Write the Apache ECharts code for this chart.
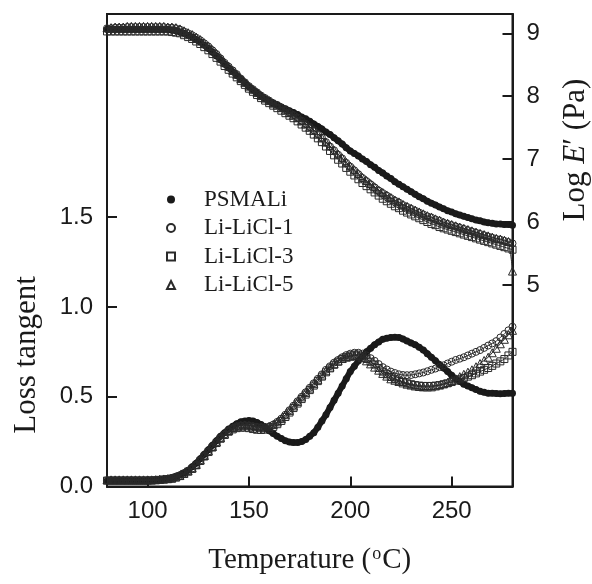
<!DOCTYPE html>
<html>
<head>
<meta charset="utf-8">
<script src="https://cdn.jsdelivr.net/npm/echarts@6/dist/echarts.min.js"></script>
<style>html,body{margin:0;padding:0;background:#fff}#c{width:592px;height:584px}</style>
</head>
<body>
<div id="c"></div>
<script>
// Temperature (°C)
const temps = [80,82,84,86,88,90,92,94,96,98,100,102,104,106,108,110,112,114,116,118,120,122,124,126,128,130,132,134,136,138,140,142,144,146,148,150,152,154,156,158,160,162,164,166,168,170,172,174,176,178,180,182,184,186,188,190,192,194,196,198,200,202,204,206,208,210,212,214,216,218,220,222,224,226,228,230,232,234,236,238,240,242,244,246,248,250,252,254,256,258,260,262,264,266,268,270,272,274,276,278,280];

const seriesNames = ['PSMALi','Li-LiCl-1','Li-LiCl-3','Li-LiCl-5'];
const xTicks = [100,150,200,250];
const leftTicks = [0,0.5,1.0,1.5];
const rightTicks = [5,6,7,8,9];

// Log E' (Pa)
const logE_PSMALi = [9.06,9.06,9.06,9.06,9.06,9.06,9.06,9.06,9.06,9.06,9.06,9.06,9.06,9.06,9.06,9.06,9.05,9.04,9.02,9.00,8.97,8.94,8.90,8.86,8.81,8.76,8.70,8.64,8.58,8.51,8.45,8.39,8.33,8.27,8.21,8.15,8.10,8.05,8.00,7.96,7.92,7.89,7.86,7.83,7.80,7.77,7.74,7.71,7.67,7.64,7.60,7.56,7.52,7.48,7.43,7.39,7.34,7.29,7.24,7.18,7.13,7.09,7.05,7.00,6.96,6.91,6.87,6.82,6.78,6.73,6.69,6.64,6.60,6.56,6.52,6.48,6.44,6.40,6.37,6.33,6.30,6.27,6.24,6.21,6.18,6.16,6.13,6.11,6.09,6.07,6.05,6.03,6.02,6.00,5.99,5.98,5.97,5.97,5.96,5.96,5.95];
const logE_LiCl1 = [9.08,9.08,9.09,9.09,9.09,9.10,9.10,9.10,9.10,9.10,9.10,9.10,9.10,9.10,9.10,9.09,9.09,9.08,9.06,9.03,9.00,8.97,8.93,8.89,8.84,8.79,8.73,8.67,8.60,8.53,8.47,8.41,8.35,8.28,8.22,8.16,8.11,8.06,8.01,7.97,7.93,7.89,7.86,7.82,7.78,7.74,7.70,7.66,7.61,7.56,7.51,7.46,7.40,7.34,7.27,7.20,7.14,7.07,7.01,6.94,6.88,6.82,6.76,6.70,6.65,6.60,6.55,6.50,6.46,6.42,6.38,6.34,6.31,6.27,6.24,6.21,6.18,6.15,6.12,6.09,6.07,6.04,6.02,5.99,5.97,5.95,5.93,5.91,5.89,5.87,5.85,5.83,5.81,5.79,5.77,5.75,5.73,5.72,5.70,5.68,5.66];
const logE_LiCl3 = [9.03,9.03,9.03,9.03,9.03,9.03,9.03,9.03,9.03,9.03,9.03,9.03,9.03,9.03,9.03,9.03,9.02,9.01,9.00,8.97,8.94,8.91,8.87,8.83,8.78,8.73,8.67,8.61,8.55,8.48,8.42,8.36,8.30,8.24,8.18,8.12,8.07,8.02,7.97,7.93,7.89,7.85,7.81,7.77,7.73,7.69,7.65,7.60,7.55,7.50,7.45,7.39,7.33,7.27,7.20,7.13,7.06,6.99,6.93,6.86,6.80,6.74,6.68,6.62,6.57,6.52,6.47,6.42,6.37,6.33,6.29,6.25,6.22,6.18,6.15,6.12,6.09,6.06,6.03,6.00,5.97,5.95,5.92,5.90,5.88,5.86,5.84,5.82,5.80,5.78,5.76,5.74,5.72,5.70,5.68,5.66,5.64,5.62,5.60,5.58,5.56];
const logE_LiCl5 = [9.09,9.09,9.10,9.10,9.10,9.11,9.11,9.11,9.11,9.11,9.11,9.11,9.11,9.11,9.11,9.10,9.10,9.09,9.07,9.04,9.01,8.98,8.94,8.90,8.85,8.80,8.74,8.68,8.61,8.54,8.48,8.41,8.35,8.28,8.22,8.16,8.11,8.06,8.01,7.97,7.93,7.89,7.86,7.82,7.78,7.74,7.70,7.66,7.61,7.56,7.51,7.46,7.40,7.34,7.27,7.21,7.14,7.08,7.02,6.95,6.89,6.83,6.77,6.71,6.66,6.61,6.56,6.51,6.47,6.43,6.39,6.35,6.32,6.28,6.25,6.22,6.19,6.16,6.13,6.10,6.08,6.05,6.03,6.00,5.98,5.96,5.94,5.92,5.90,5.88,5.86,5.84,5.82,5.80,5.78,5.76,5.74,5.73,5.71,5.69,5.22];

// Loss tangent
const tan_PSMALi = [0.03,0.03,0.03,0.03,0.03,0.03,0.03,0.03,0.03,0.03,0.03,0.032,0.035,0.037,0.04,0.045,0.05,0.057,0.065,0.076,0.09,0.11,0.13,0.155,0.18,0.205,0.23,0.255,0.28,0.30,0.32,0.335,0.35,0.36,0.365,0.368,0.365,0.357,0.345,0.33,0.31,0.295,0.28,0.267,0.255,0.248,0.245,0.245,0.25,0.262,0.28,0.30,0.33,0.365,0.40,0.44,0.48,0.52,0.56,0.60,0.64,0.67,0.70,0.725,0.75,0.77,0.79,0.805,0.82,0.826,0.83,0.832,0.83,0.822,0.81,0.80,0.79,0.775,0.76,0.74,0.72,0.70,0.68,0.66,0.64,0.62,0.60,0.585,0.57,0.56,0.55,0.54,0.53,0.525,0.52,0.52,0.518,0.517,0.518,0.52,0.52];
const tan_LiCl1 = [0.035,0.035,0.035,0.035,0.035,0.035,0.035,0.035,0.035,0.035,0.035,0.035,0.036,0.038,0.04,0.042,0.045,0.052,0.06,0.072,0.085,0.10,0.12,0.145,0.17,0.195,0.22,0.245,0.27,0.29,0.31,0.325,0.335,0.34,0.342,0.34,0.335,0.332,0.33,0.331,0.335,0.345,0.36,0.378,0.40,0.425,0.45,0.475,0.50,0.525,0.55,0.575,0.60,0.625,0.65,0.67,0.69,0.705,0.72,0.732,0.74,0.745,0.745,0.74,0.73,0.715,0.70,0.682,0.665,0.652,0.64,0.632,0.625,0.621,0.62,0.621,0.625,0.63,0.635,0.642,0.65,0.657,0.665,0.675,0.685,0.695,0.705,0.712,0.72,0.73,0.74,0.75,0.76,0.772,0.785,0.797,0.81,0.83,0.85,0.87,0.89];
const tan_LiCl3 = [0.033,0.033,0.033,0.033,0.033,0.033,0.033,0.033,0.033,0.033,0.033,0.034,0.035,0.037,0.039,0.041,0.044,0.05,0.058,0.07,0.083,0.098,0.118,0.142,0.167,0.192,0.217,0.242,0.266,0.287,0.305,0.318,0.325,0.328,0.328,0.325,0.32,0.316,0.315,0.317,0.322,0.332,0.347,0.365,0.387,0.412,0.437,0.462,0.487,0.512,0.537,0.562,0.587,0.612,0.636,0.658,0.678,0.695,0.71,0.722,0.73,0.735,0.735,0.725,0.71,0.695,0.68,0.66,0.64,0.625,0.61,0.60,0.59,0.582,0.575,0.57,0.565,0.562,0.56,0.56,0.56,0.562,0.565,0.57,0.575,0.582,0.59,0.597,0.605,0.612,0.62,0.63,0.64,0.65,0.66,0.672,0.685,0.697,0.71,0.73,0.75];
const tan_LiCl5 = [0.037,0.037,0.037,0.037,0.037,0.037,0.037,0.037,0.037,0.037,0.037,0.037,0.038,0.04,0.042,0.044,0.047,0.054,0.062,0.074,0.087,0.103,0.123,0.148,0.173,0.198,0.223,0.248,0.272,0.292,0.312,0.327,0.336,0.341,0.343,0.341,0.336,0.332,0.33,0.331,0.335,0.345,0.36,0.378,0.40,0.424,0.449,0.474,0.499,0.524,0.548,0.573,0.597,0.621,0.645,0.665,0.684,0.70,0.713,0.72,0.725,0.73,0.728,0.718,0.70,0.683,0.665,0.648,0.63,0.615,0.60,0.592,0.585,0.577,0.57,0.565,0.56,0.557,0.555,0.555,0.555,0.56,0.565,0.572,0.58,0.59,0.60,0.612,0.625,0.637,0.65,0.667,0.685,0.702,0.72,0.745,0.77,0.795,0.82,0.845,0.87];

function pairs(ys){ return temps.map((t,i)=>[t, ys[i]]); }

const INK = '#1a1a1a';
const OPEN = '#2a2a2a';
const axisFont = 'Liberation Sans, Arial, sans-serif';
const serif = 'Liberation Serif, Times New Roman, serif';

const styles = [
  {symbol:'circle', size:7, item:{color:INK, borderColor:INK, borderWidth:0}, line:{width:6, color:INK}},
  {symbol:'circle', size:7, item:{color:'rgba(255,255,255,0)', borderColor:OPEN, borderWidth:1}, line:{width:1, color:OPEN}},
  {symbol:'rect', size:7, item:{color:'rgba(255,255,255,0)', borderColor:OPEN, borderWidth:1}, line:{width:1, color:OPEN}},
  {symbol:'triangle', size:8, item:{color:'rgba(255,255,255,0)', borderColor:OPEN, borderWidth:1}, line:{width:1, color:OPEN}}
];
const eData = [logE_PSMALi, logE_LiCl1, logE_LiCl3, logE_LiCl5];
const tData = [tan_PSMALi, tan_LiCl1, tan_LiCl3, tan_LiCl5];

const series = [];
[0,1,2,3].forEach(k=>{
  const s = styles[k];
  [[eData[k],1],[tData[k],0]].forEach(([ys,ax])=>{
    series.push({
      name: seriesNames[k], type:'line', yAxisIndex: ax,
      data: pairs(ys), smooth: 0.3,
      symbol: s.symbol, symbolSize: s.size, showSymbol:true, showAllSymbol:true,
      itemStyle: s.item, lineStyle: s.line,
      emphasis:{disabled:true}, z: k===0 ? 2 : 3
    });
  });
});

const chart = echarts.init(document.getElementById('c'), null, {renderer:'canvas'});
chart.setOption({
  animation:false,
  backgroundColor:'#fff',
  grid:{left:107, right:79.5, top:14, bottom:97.5, containLabel:false, outerBoundsMode:'none',
        show:true, borderColor:INK, borderWidth:2, backgroundColor:'transparent'},
  legend:{
    orient:'vertical', left:161, top:183, itemWidth:8, itemHeight:8, itemGap:5.5,
    selectedMode:false,
    textStyle:{fontFamily:serif, fontSize:23, color:INK, padding:[0,0,0,24]},
    data: seriesNames.map((n,i)=>({name:n, icon: styles[i].symbol}))
  },
  xAxis:{
    type:'value', min:80, max:280,
    axisLine:{show:true, lineStyle:{color:INK, width:2}},
    axisTick:{show:true, inside:true, length:10, lineStyle:{color:INK, width:2}, customValues:xTicks},
    axisLabel:{show:true, customValues:xTicks, margin:13, fontFamily:axisFont, fontSize:24, color:INK},
    splitLine:{show:false},
    name:'{a|Temperature (}{s|o}{a|C)}', nameLocation:'middle', nameGap:59,
    nameTextStyle:{fontFamily:serif, fontSize:29, color:INK,
      rich:{a:{fontFamily:serif, fontSize:29, color:INK}, s:{fontFamily:serif, fontSize:18, color:INK, verticalAlign:'top', padding:[0,1,12,1]}}}
  },
  yAxis:[
    {
      type:'value', min:0, max:2.632, position:'left',
      axisLine:{show:true, lineStyle:{color:INK, width:2}},
      axisTick:{show:true, inside:true, length:10, lineStyle:{color:INK, width:2}, customValues:leftTicks},
      axisLabel:{show:true, customValues:leftTicks, margin:14, fontFamily:axisFont, fontSize:24, color:INK,
        formatter:v=>v.toFixed(1)},
      splitLine:{show:false}
    },
    {
      type:'value', min:1.795, max:9.307, position:'right',
      axisLine:{show:true, lineStyle:{color:INK, width:2}},
      axisTick:{show:true, inside:true, length:10, lineStyle:{color:INK, width:2}, customValues:rightTicks},
      axisLabel:{show:true, customValues:rightTicks, margin:14, fontFamily:axisFont, fontSize:24, color:INK,
        formatter:v=>String(v)},
      splitLine:{show:false}
    }
  ],
  graphic:[
    {type:'text', x:27, y:355, rotation:Math.PI/2, style:{text:'Loss tangent', fontFamily:serif, fontSize:31, fill:INK, align:'center', verticalAlign:'middle'}},
    {type:'text', x:576, y:150, rotation:Math.PI/2, style:{
      text:'{a|Log }{e|E}{a|\u2032 (Pa)}', align:'center', verticalAlign:'middle',
      rich:{a:{fontFamily:serif, fontSize:31, fill:INK}, e:{fontFamily:serif, fontSize:31, fontStyle:'italic', fill:INK}}}}
  ],
  series: series
});
</script>
</body>
</html>
